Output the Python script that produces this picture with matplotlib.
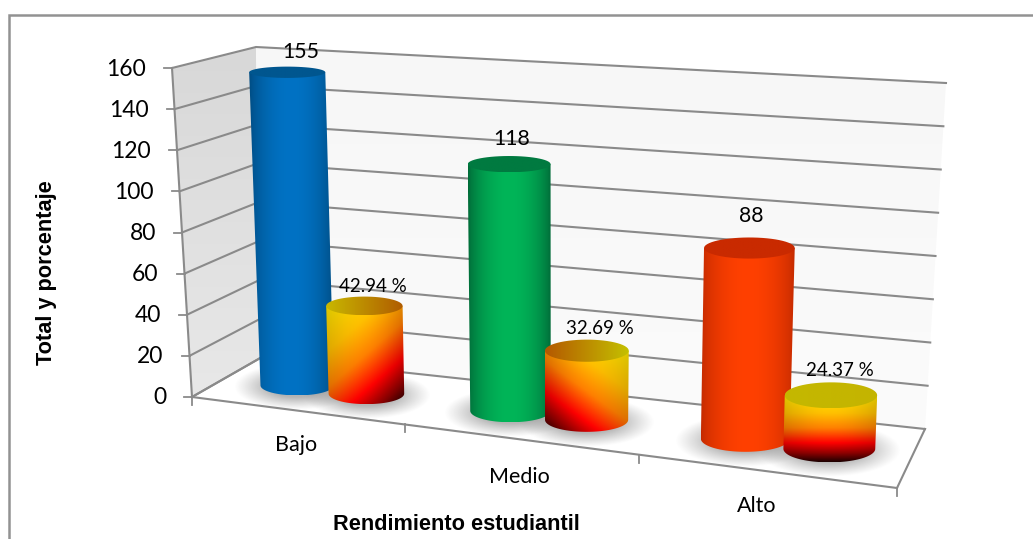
import numpy as np
import matplotlib
matplotlib.use("Agg")
import matplotlib.pyplot as plt
from matplotlib.colors import LinearSegmentedColormap, to_rgb
from matplotlib.patches import PathPatch, Polygon
from matplotlib.path import Path

# ---- data ----
categories = ["Bajo", "Medio", "Alto"]
totals = [155, 118, 88]
percentages = [42.94, 32.69, 24.37]
y_ticks = [0, 20, 40, 60, 80, 100, 120, 140, 160]
x_title = "Rendimiento estudiantil"
y_title = "Total y porcentaje"

# ---- layout ----
W, H = 1033, 539
Y_MAX = 160
N_CAT = 3
# box corners in pixels: (depth, level) -> left / right
BL_BACK, BR_BACK = (262, 357), (925, 429)
BL_FRONT, BR_FRONT = (192, 397), (897, 488)
TL_BACK, TR_BACK = (256, 47), (946, 83)
TL_FRONT, TR_FRONT = (172, 68), (904, 123)
PERSP = 0.156
BAR_DEPTH = 0.5
BAR_POS = (0.35, 0.685)
BAR_HALF_W = 0.18
BAR_HALF_D = 0.24
total_label_offset = [(14, -20), (3, -25), (2, -32)]
pct_label_offset = [(8, -19), (13, -22), (9, -25)]
cat_label_pos = [(296, 445), (519, 477), (757, 506)]
GRID = "#8a8a8a"

# ---- styles ----
total_edge = ["#014b80", "#006a38", "#c22a00"]
total_mid = ["#0072c4", "#00b558", "#ff4000"]
total_top = ["#00568f", "#007a40", "#c92a00"]
pct_dirs = [(0.7, 1.0), (-0.75, 1.0), (0.0, 1.0)]
pct_top = [("#c8b800", "#b05c00"), ("#b45800", "#c4c000"), ("#c4b800", "#c4b400")]
pct_cmap = LinearSegmentedColormap.from_list(
    "heat", [(0, "#ffe800"), (0.28, "#ffc000"), (0.5, "#ff8000"), (0.72, "#ff0000"), (0.88, "#8a0000"), (1, "#200000")])


def project(s, d, v):
    """Category coordinate s, depth d (0 back, 1 front), value v -> pixel."""
    u = s / (N_CAT + PERSP * (N_CAT - s))
    def edge(a, b):
        return np.array(a) * (1 - u) + np.array(b) * u
    bottom = edge(BL_BACK, BR_BACK) * (1 - d) + edge(BL_FRONT, BR_FRONT) * d
    top = edge(TL_BACK, TR_BACK) * (1 - d) + edge(TL_FRONT, TR_FRONT) * d
    return bottom + (top - bottom) * v / Y_MAX


def grad_fill(ax, path, rgb, zorder):
    """Draw an RGB(A) array clipped to a path, filling the path's bounding box."""
    x0, y0 = path.vertices.min(axis=0)
    x1, y1 = path.vertices.max(axis=0)
    im = ax.imshow(rgb, extent=(x0, x1, y1, y0), aspect="auto", origin="upper",
                   interpolation="bilinear", zorder=zorder)
    patch = PathPatch(path, transform=ax.transData, fc="none", ec="none")
    ax.add_patch(patch)
    im.set_clip_path(patch)


def lerp_img(t, a, b):
    a, b = np.array(to_rgb(a)), np.array(to_rgb(b))
    return a + (b - a) * t[..., None]


def ellipse_pts(cx, cy, rx, ry, start, stop, n=60):
    th = np.linspace(start, stop, n)
    return np.column_stack([cx + rx * np.cos(th), cy + ry * np.sin(th)])


def cyl_geom(s, value):
    bc = project(s, BAR_DEPTH, 0)
    tc = project(s, BAR_DEPTH, value)
    def radii(v):
        rx = (project(s + BAR_HALF_W, BAR_DEPTH, v)[0] - project(s - BAR_HALF_W, BAR_DEPTH, v)[0]) / 2
        ry = (project(s, BAR_DEPTH + BAR_HALF_D, v)[1] - project(s, BAR_DEPTH - BAR_HALF_D, v)[1]) / 2
        return rx, ry
    return bc, tc, radii(0), radii(value)


def draw_shadow(ax, s, zorder=3):
    bc, _, (rx, ry), _ = cyl_geom(s, 0)
    w, h = rx + 26, ry + 13
    yy, xx = np.mgrid[-1:1:80j, -1:1:160j]
    r = np.sqrt(xx ** 2 + yy ** 2)
    a = np.clip((1 - r) / 0.55, 0, 1) ** 1.1 * 0.65
    img = np.zeros((80, 160, 4))
    img[..., :3] = 0.55
    img[..., 3] = a
    ax.imshow(img, extent=(bc[0] - w, bc[0] + w, bc[1] + 2 + h, bc[1] + 2 - h),
              aspect="auto", origin="upper", interpolation="bilinear", zorder=zorder)


def draw_cylinder(ax, s, value, side_img, top_img, zorder):
    bc, tc, (rxb, ryb), (rxt, ryt) = cyl_geom(s, value)
    lower = ellipse_pts(bc[0], bc[1], rxb, ryb, 0, np.pi)
    side = np.vstack([[tc[0] - rxt, tc[1]], [tc[0] + rxt, tc[1]], lower])
    side_path = Path(np.vstack([side, side[0]]), closed=True)
    grad_fill(ax, side_path, side_img, zorder)
    top = ellipse_pts(tc[0], tc[1], rxt, ryt, 0, 2 * np.pi)
    grad_fill(ax, Path(np.vstack([top, top[0]]), closed=True), top_img, zorder + 0.1)
    return tc


plt.rcParams["font.family"] = ["Lato", "DejaVu Sans"]
fig = plt.figure(figsize=(W / 100, H / 100), dpi=100, facecolor="white")
ax = fig.add_axes([0, 0, 1, 1])
ax.set_axis_off()

# outer frame: only the left and top sides show
ax.plot([9, 9, W], [H, 15, 15], color="#929292", lw=1.8, zorder=0.5, solid_joinstyle="miter")

# walls
tv = np.linspace(0, 1, 64)[:, None] * np.ones((64, 4))
left_wall = Path([TL_FRONT, TL_BACK, BL_BACK, BL_FRONT, TL_FRONT], closed=True)
grad_fill(ax, left_wall, lerp_img(tv, "#d8d8d8", "#e8e8e8"), 1)
back_wall = Path([TL_BACK, TR_BACK, BR_BACK, BL_BACK, TL_BACK], closed=True)
grad_fill(ax, back_wall, lerp_img(tv, "#f7f7f7", "#fbfbfb"), 1)
ax.add_patch(Polygon([BL_BACK, BR_BACK, BR_FRONT, BL_FRONT], closed=True, fc="white", ec="none", zorder=1.5))

# gridlines and ticks
for v in y_ticks:
    p0, p1, p2 = project(0, 1, v), project(0, 0, v), project(N_CAT, 0, v)
    ax.plot([p0[0], p1[0], p2[0]], [p0[1], p1[1], p2[1]], color=GRID, lw=1.5, zorder=2,
            solid_joinstyle="miter")
    ax.plot([p0[0] - 8, p0[0]], [p0[1], p0[1]], color=GRID, lw=1.3, zorder=2)
    ax.text(p0[0] - 26, p0[1] + 1, str(v), ha="right", va="center", fontsize=16.5, color="black", zorder=6)

# box edges
for a, b in [(TL_FRONT, BL_FRONT), (BL_FRONT, BR_FRONT), (BR_FRONT, BR_BACK), (BL_FRONT, BL_BACK)]:
    ax.plot([a[0], b[0]], [a[1], b[1]], color=GRID, lw=1.5, zorder=2)
for i in range(N_CAT + 1):
    p = project(i, 1, 0)
    ax.plot([p[0], p[0]], [p[1], p[1] + 8], color=GRID, lw=1.3, zorder=2)

# shadows, then cylinders from left to right
for i in range(N_CAT):
    for off in BAR_POS:
        draw_shadow(ax, i + off)

xt = np.linspace(0, 1, 128)
yy, xx = np.mgrid[0:1:96j, 0:1:128j]
for i in range(N_CAT):
    # totals
    shade = np.sin(np.pi * xt) ** 0.7
    side = lerp_img(shade[None, :] * np.ones((8, 1)), total_edge[i], total_mid[i])
    top = lerp_img(shade[None, :] * np.ones((8, 1)), total_top[i], total_top[i])
    tc = draw_cylinder(ax, i + BAR_POS[0], totals[i], side, top, 4 + i)
    dx, dy = total_label_offset[i]
    ax.text(tc[0] + dx, tc[1] + dy, str(totals[i]), ha="center", va="center", fontsize=15.3, zorder=7)

    # percentages
    ux, uy = pct_dirs[i]
    t = (xx * ux + yy * uy)
    t = (t - t.min()) / (t.max() - t.min())
    side = pct_cmap(t)[..., :3] * (0.86 + 0.14 * np.sin(np.pi * xx))[..., None]
    top = lerp_img(xt[None, :] * np.ones((8, 1)), pct_top[i][0], pct_top[i][1])
    tc = draw_cylinder(ax, i + BAR_POS[1], percentages[i], side, top, 4.5 + i)
    dx, dy = pct_label_offset[i]
    ax.text(tc[0] + dx, tc[1] + dy, f"{percentages[i]:.2f} %", ha="center", va="center",
            fontsize=13.5, zorder=7)

# category labels and axis titles
for name, (x, y) in zip(categories, cat_label_pos):
    ax.text(x, y, name, ha="center", va="center", fontsize=15.5, zorder=7)
ax.text(456, 525, x_title, ha="center", va="center", fontsize=15.7,
        fontweight="bold", family=["Liberation Sans"], zorder=7)
ax.text(47, 273, y_title, ha="center", va="center", rotation=90, fontsize=15.7,
        fontweight="bold", family=["Liberation Sans"], zorder=7)

ax.set_xlim(0, W)
ax.set_ylim(H, 0)
fig.savefig("out.png", dpi=100, facecolor="white")
